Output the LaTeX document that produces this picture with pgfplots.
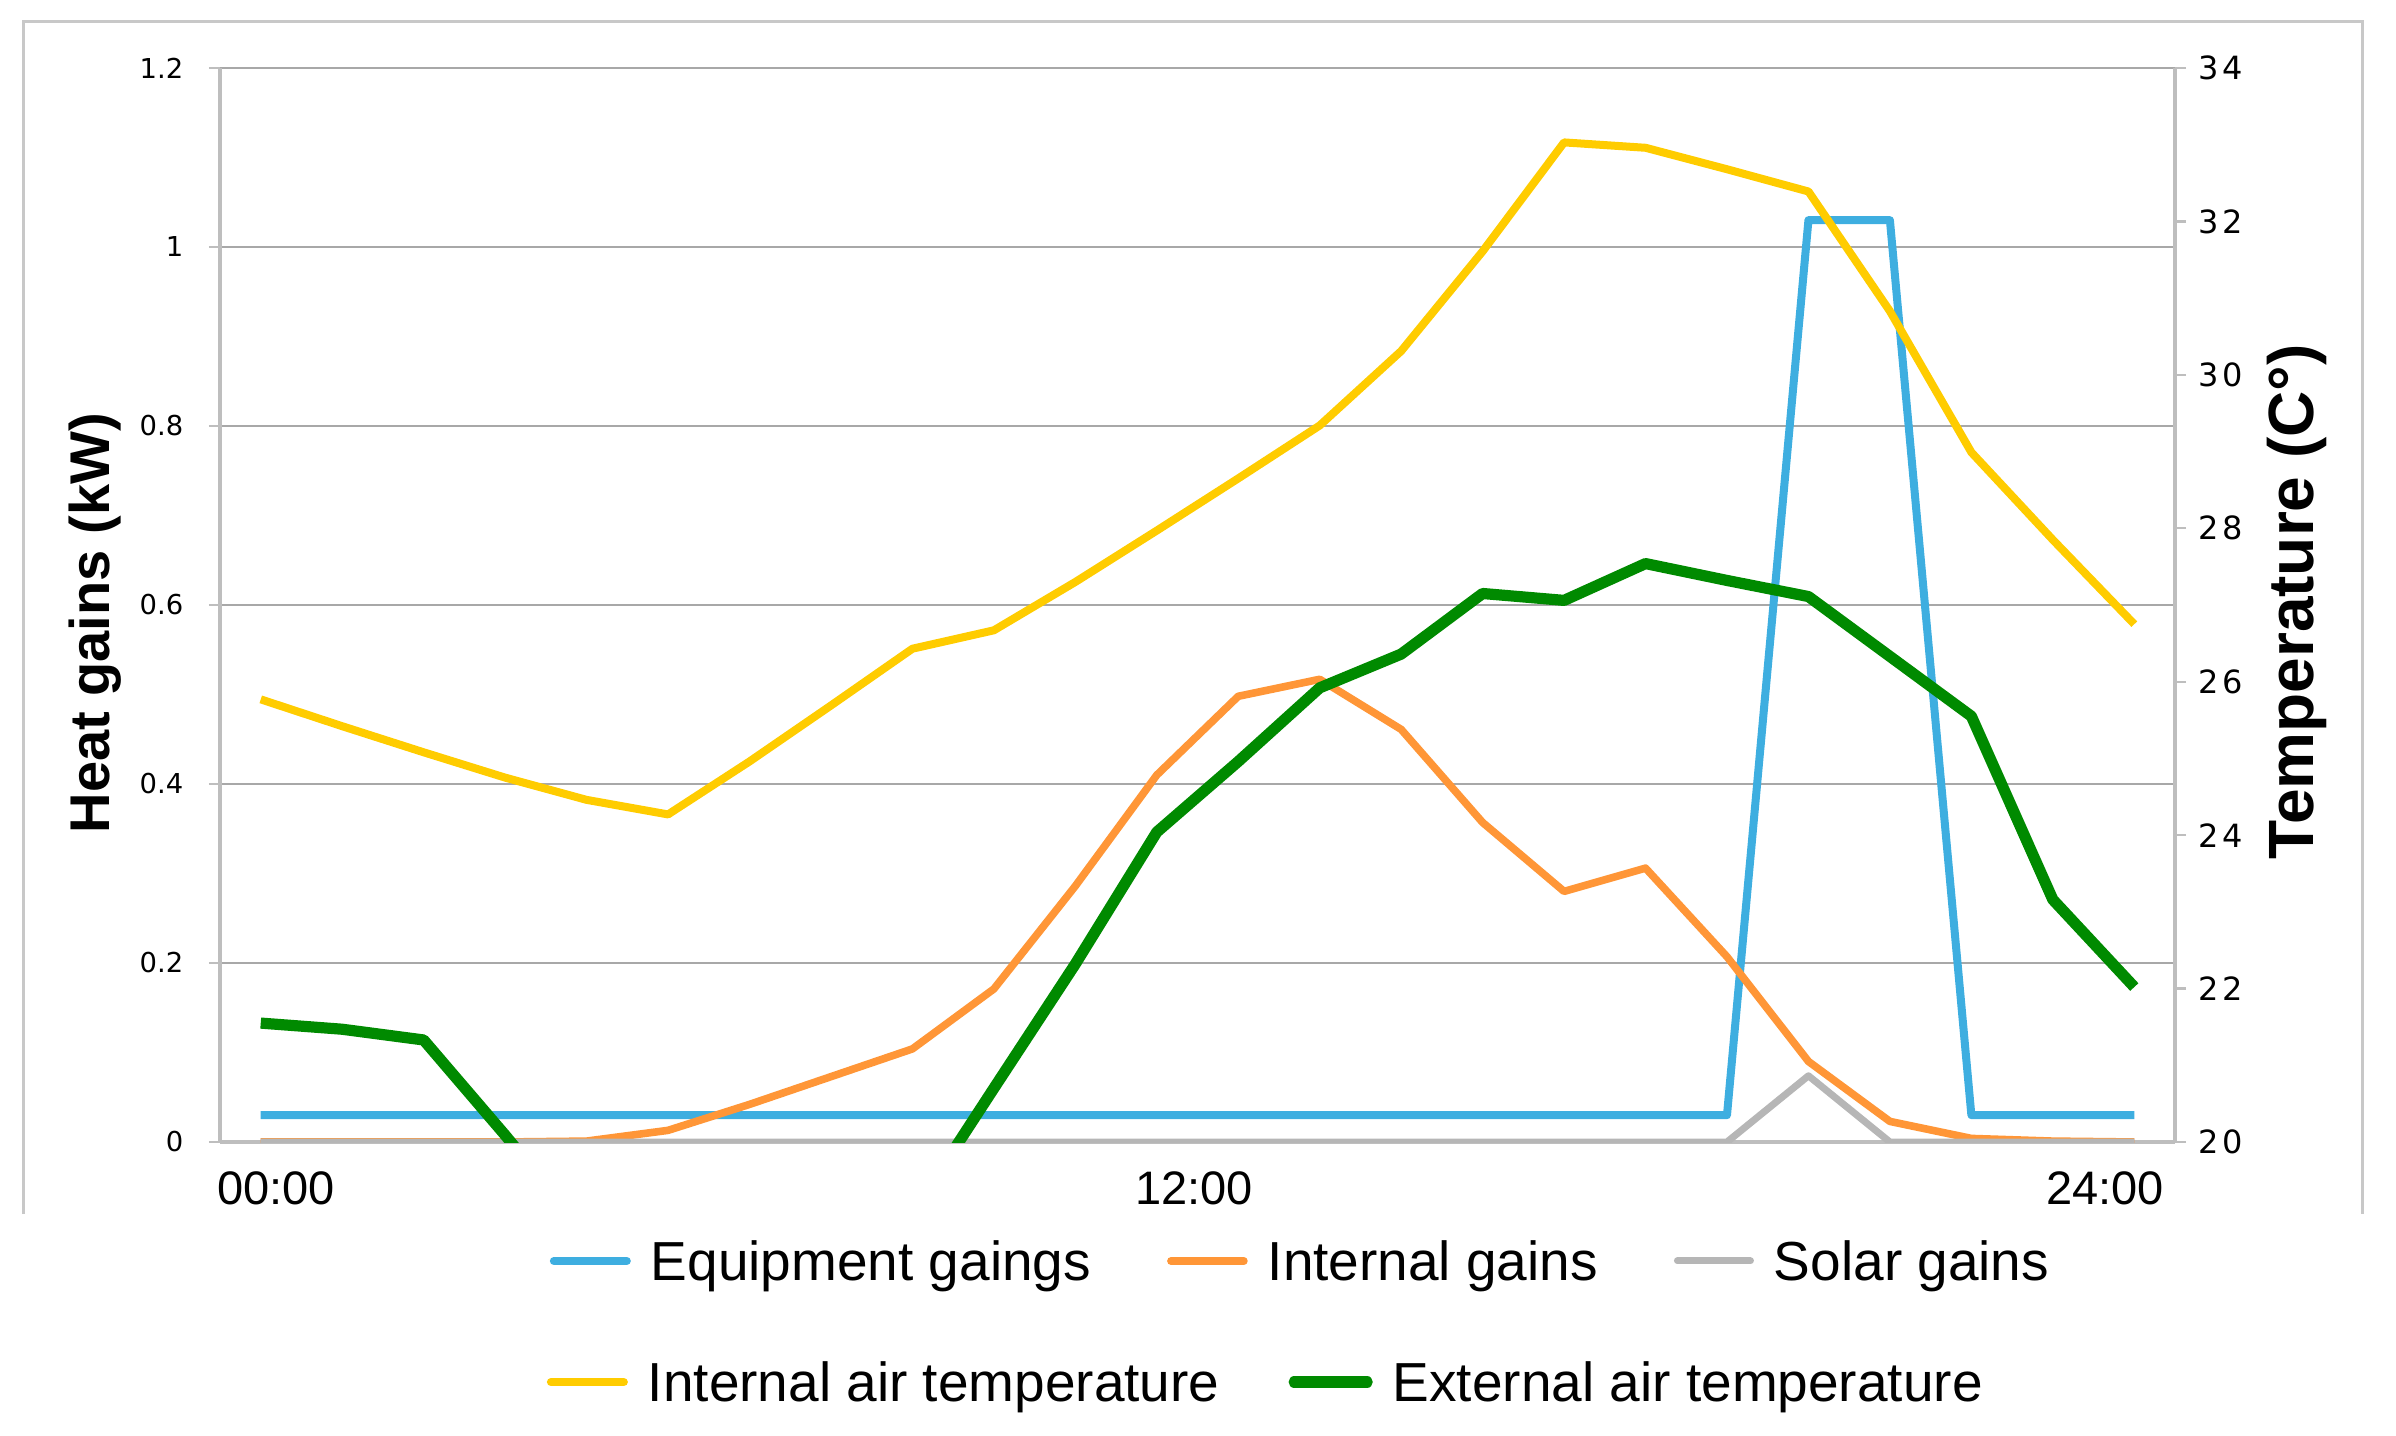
\documentclass[border=0pt]{standalone}
\usepackage{fontspec}
\setmainfont{Liberation Sans}
\newfontfamily\tickfont{DejaVu Sans}
\newfontfamily\rtickfont{DejaVu Sans}[LetterSpace=10]
\usepackage{pgfplots}
\usepackage{pgfplotstable}
\pgfplotsset{compat=1.18}

\definecolor{cBlue}{RGB}{62,174,224}
\definecolor{cOrange}{RGB}{255,150,55}
\definecolor{cGray}{RGB}{182,182,182}
\definecolor{cYellow}{RGB}{255,204,0}
\definecolor{cGreen}{RGB}{0,138,0}
\definecolor{axgray}{RGB}{190,190,190}
\definecolor{gridgray}{RGB}{168,168,168}
\definecolor{framegray}{RGB}{200,200,200}

\pgfplotstableread{
h equip internal solar
0  0.030 0.000 0
1  0.030 0.000 0
2  0.030 0.000 0
3  0.030 0.000 0
4  0.030 0.001 0
5  0.030 0.013 0
6  0.030 0.042 0
7  0.030 0.073 0
8  0.030 0.104 0
9  0.030 0.171 0
10 0.030 0.286 0
11 0.030 0.410 0
12 0.030 0.498 0
13 0.030 0.517 0
14 0.030 0.461 0
15 0.030 0.357 0
16 0.030 0.280 0
17 0.030 0.306 0
18 0.030 0.207 0
19 1.030 0.090 0.074
20 1.030 0.023 0
21 0.030 0.004 0
22 0.030 0.001 0
23 0.030 0.000 0
}\gains

\pgfplotstableread{
h tin tout
0  25.77 21.55
1  25.42 21.47
2  25.08 21.33
3  24.75 20.09
4  24.46 18.80
5  24.27 18.40
6  24.96 18.20
7  25.69 18.40
8  26.43 19.07
9  26.67 20.70
10 27.30 22.32
11 27.97 24.04
12 28.65 24.96
13 29.34 25.92
14 30.31 26.36
15 31.61 27.15
16 33.03 27.06
17 32.96 27.54
18 32.68 27.32
19 32.39 27.11
20 30.83 26.33
21 28.99 25.55
22 27.85 23.16
23 26.75 22.02
}\temps

\begin{document}
\begin{tikzpicture}
\path[use as bounding box] (0,0) rectangle (599pt,358.75pt);
\draw[framegray, line width=0.75pt] (5.75pt,55.25pt) -- (5.75pt,353.25pt) -- (590.5pt,353.25pt) -- (590.5pt,55.25pt);

\begin{axis}[
  at={(55pt,73.25pt)}, anchor=south west,
  width=488.75pt, height=268.5pt, scale only axis,
  xmin=-0.5, xmax=23.5, ymin=0, ymax=1.2,
  axis x line*=bottom, axis y line*=left,
  axis line style={axgray, line width=0.8pt},
  tick align=outside,
  xtick=\empty,
  minor xtick={-0.5,0.5,...,23.5},
  minor tick length=2.5pt, major tick length=2.75pt,
  tick style={axgray, line width=0.6pt},
  extra x ticks={0.19,11.46,22.64},
  extra x tick labels={00:00,12:00,24:00},
  extra x tick style={major tick length=0pt, xticklabel style={font=\fontsize{11.75pt}{13pt}\selectfont, inner sep=0pt, anchor=north, yshift=-7.25pt}},
  ytick={0,0.2,0.4,0.6,0.8,1,1.2},
  ymajorgrids, grid style={gridgray, line width=0.5pt},
  yticklabel style={font=\tickfont\fontsize{6.85pt}{8pt}\selectfont, inner sep=0pt, anchor=east, xshift=-6.25pt},
  /pgf/number format/assume math mode=true,
  ylabel={Heat gains (kW)},
  ylabel style={font=\bfseries\fontsize{14pt}{16pt}\selectfont, at={(axis description cs:-0.0637,0.483)}, anchor=center},
  legend columns=3,
  legend style={at={(0.1683,-0.1108)}, anchor=west, draw=none, fill=none, inner sep=0pt,
    font=\fontsize{13.75pt}{16pt}\selectfont, nodes={inner sep=0pt, text depth=0pt},
    /tikz/every odd column/.append style={column sep=5pt},
    /tikz/every even column/.append style={column sep=19pt}},
  legend image code/.code={\draw[#1, line cap=round] (0pt,0pt) -- (18.25pt,0pt);},
]
\addplot[cBlue, line width=2pt, line join=round] table[x=h, y=equip]{\gains};
\addlegendentry{Equipment gaings}
\addplot[cOrange, line width=1.9pt, line join=round] table[x=h, y=internal]{\gains};
\addlegendentry{Internal gains}
\addplot[cGray, line width=1.75pt, line join=round] table[x=h, y=solar]{\gains};
\addlegendentry{Solar gains}
\end{axis}

\begin{axis}[
  at={(55pt,73.25pt)}, anchor=south west,
  width=488.75pt, height=268.5pt, scale only axis,
  xmin=-0.5, xmax=23.5, ymin=20, ymax=34,
  axis y line*=right, axis x line=none,
  axis line style={axgray, line width=0.8pt},
  tick align=outside, major tick length=2.75pt,
  tick style={axgray, line width=0.6pt},
  ytick={20,22,24,26,28,30,32,34},
  yticklabel style={font=\rtickfont\fontsize{8pt}{9pt}\selectfont, inner sep=0pt, anchor=west, xshift=3pt},
  /pgf/number format/assume math mode=true,
  ylabel={Temperature (C°)},
  ylabel style={font=\bfseries\fontsize{16pt}{18pt}\selectfont, at={(axis description cs:1.0624,0.503)}, anchor=center},
  legend columns=2,
  legend style={at={(0.1668,-0.2235)}, anchor=west, draw=none, fill=none, inner sep=0pt,
    font=\fontsize{13.75pt}{16pt}\selectfont, nodes={inner sep=0pt, text depth=0pt},
    /tikz/every odd column/.append style={column sep=5pt},
    /tikz/every even column/.append style={column sep=17.25pt}},
  legend image code/.code={\draw[#1, line cap=round] (0pt,0pt) -- (18.25pt,0pt);},
]
\addplot[cYellow, line width=2pt, line join=round] table[x=h, y=tin]{\temps};
\addlegendentry{Internal air temperature}
\addplot[cGreen, line width=2.8pt, line join=round] table[x=h, y=tout]{\temps};
\addlegendentry{External air temperature}
\end{axis}
\end{tikzpicture}
\end{document}
